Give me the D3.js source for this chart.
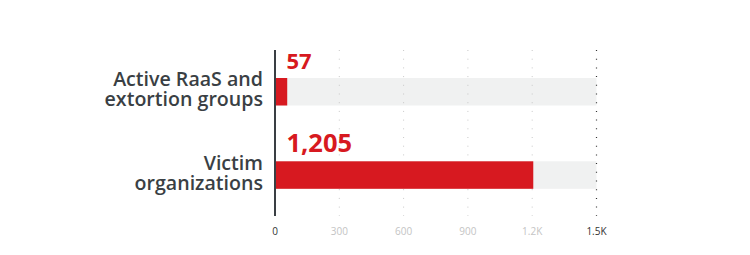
<!DOCTYPE html>
<html><head><meta charset="utf-8">
<script src="https://cdn.jsdelivr.net/npm/d3@7"></script>
<style>
html,body{margin:0;padding:0;background:#fff;}
svg{display:block;}
</style></head>
<body>
<svg id="chart" width="750" height="255"></svg>
<script>
const categories = [["Active RaaS and","extortion groups"],["Victim","organizations"]];
const values = [57, 1205];
const valueLabels = ["57", "1,205"];
const tickValues = [0, 300, 600, 900, 1200, 1500];
const tickLabels = ["0", "300", "600", "900", "1.2K", "1.5K"];
const maxValue = 1500;

const svg = d3.select("#chart");
const x = d3.scaleLinear().domain([0, maxValue]).range([275, 596.5]);

const red = "#d71920", bg = "#f0f1f1", dark = "#3a3f44";

const barTop = [78, 161.3];
const barH = 27.5;

// background bars
values.forEach((v,i)=>{
  svg.append("rect").attr("x", x(0)).attr("y", barTop[i]).attr("width", x(maxValue)-x(0)).attr("height", barH).attr("fill", bg);
});
// gridlines
tickValues.slice(1).forEach((t,i)=>{
  const last = t === maxValue;
  svg.append("line")
    .attr("x1", x(t)).attr("x2", x(t))
    .attr("y1", 50).attr("y2", 216)
    .attr("stroke", last ? "#333" : "#c8c8c8")
    .attr("stroke-width", last ? 1.2 : 1)
    .attr("stroke-dasharray", "1 7.7");
});
values.forEach((v,i)=>{
  svg.append("rect").attr("x", x(0)).attr("y", barTop[i]).attr("width", x(v)-x(0)).attr("height", barH).attr("fill", red);
});

// value labels
const vSizes = [22, 25.5];
values.forEach((v,i)=>{
  svg.append("text").attr("x", 286.5).attr("y", barTop[i]-9)
    .attr("font-family", "'Open Sans', sans-serif").attr("font-weight", 700)
    .attr("font-size", vSizes[i]).attr("fill", red)
    .text(valueLabels[i]);
});

// category labels (two lines each, as tspans)
const catBase = [86, 170];
categories.forEach((lines,i)=>{
  const t = svg.append("text").attr("x", 263).attr("y", catBase[i])
    .attr("text-anchor","end")
    .attr("font-family", "'Open Sans', sans-serif").attr("font-weight", 600)
    .attr("font-size", 19.6).attr("fill", dark);
  lines.forEach((l,j)=>{
    t.append("tspan").attr("x", 263).attr("dy", j === 0 ? 0 : 19.5).text(l);
  });
});

// axis line
svg.append("line").attr("x1", x(0)).attr("x2", x(0)).attr("y1", 50).attr("y2", 216)
  .attr("stroke", dark).attr("stroke-width", 2);

// tick labels
tickValues.forEach((t,i)=>{
  const strong = i === 0 || i === tickValues.length-1;
  svg.append("text").attr("x", x(t)).attr("y", 235)
    .attr("text-anchor","middle")
    .attr("font-family", "'Open Sans', sans-serif").attr("font-size", 10)
    .attr("fill", strong ? "#333" : "#c4c4c4")
    .text(tickLabels[i]);
});
</script>
</body></html>
